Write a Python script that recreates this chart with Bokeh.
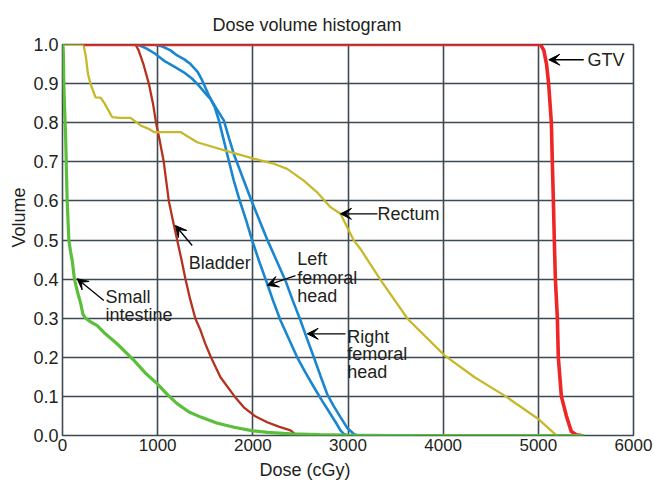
from bokeh.plotting import figure
from bokeh.models import Range1d, FixedTicker, PrintfTickFormatter, Label, Arrow, VeeHead, Title
from bokeh.embed import file_html
from bokeh.resources import INLINE

# ---------------- data ----------------
gtv_dose = [224, 5023, 5058, 5086, 5108, 5137, 5147, 5158, 5168, 5179, 5200, 5210, 5242, 5295, 5347, 5400, 5453]
gtv_vol = [1.0, 1.0, 0.985, 0.95, 0.9, 0.8, 0.7, 0.6, 0.5, 0.4, 0.3, 0.2, 0.1, 0.05, 0.01, 0.002, 0.0]

rectum_dose = [0, 220, 245, 267, 295, 347, 400, 440, 523, 600, 715, 821, 900, 960, 1240, 1415, 1765, 2010, 2220,
               2361, 2535, 2676, 2816, 2921, 3061, 3131, 3347, 3628, 4014, 4330, 4645, 4996, 5100, 5172, 5200]
rectum_vol = [1.0, 1.0, 0.97, 0.925, 0.899, 0.865, 0.864, 0.85, 0.814, 0.8125, 0.8125, 0.793, 0.785, 0.776, 0.776,
              0.75, 0.725, 0.708, 0.695, 0.682, 0.652, 0.622, 0.584, 0.567, 0.499, 0.477, 0.396, 0.298, 0.205,
              0.149, 0.102, 0.043, 0.02, 0.004, 0.0]

bladder_dose = [767, 800, 850, 907, 950, 983, 1025, 1064, 1117, 1160, 1205, 1250, 1292, 1340, 1395, 1450, 1500,
                1560, 1660, 1808, 1905, 2020, 2151, 2280, 2396, 2460]
bladder_vol = [1.0, 0.985, 0.95, 0.9, 0.85, 0.8, 0.75, 0.7, 0.6, 0.55, 0.5, 0.45, 0.4, 0.35, 0.3, 0.269, 0.235,
               0.2, 0.149, 0.1, 0.072, 0.05, 0.034, 0.022, 0.013, 0.0]

left_fh_dose = [786, 880, 970, 1064, 1170, 1275, 1360, 1433, 1520, 1555, 1600, 1643, 1690, 1730, 1800, 1862, 1930,
                1993, 2070, 2151, 2220, 2291, 2380, 2466, 2555, 2641, 2730, 2816, 2880, 2921, 2956, 2990]
left_fh_vol = [1.0, 0.99, 0.977, 0.959, 0.944, 0.929, 0.913, 0.895, 0.870, 0.861, 0.84, 0.806, 0.76, 0.72, 0.652,
               0.601, 0.55, 0.499, 0.443, 0.388, 0.34, 0.294, 0.246, 0.2, 0.16, 0.124, 0.088, 0.055, 0.03, 0.013,
               0.004, 0.0]

right_fh_dose = [960, 1050, 1135, 1205, 1280, 1345, 1420, 1468, 1537, 1570, 1620, 1695, 1750, 1800, 1905, 1985,
                 2070, 2155, 2250, 2343, 2420, 2501, 2570, 2641, 2710, 2781, 2850, 2921, 2990, 3061, 3100, 3700]
right_fh_vol = [1.0, 0.995, 0.985, 0.972, 0.962, 0.950, 0.93, 0.908, 0.870, 0.855, 0.835, 0.806, 0.76, 0.72, 0.652,
                0.601, 0.55, 0.499, 0.447, 0.396, 0.345, 0.294, 0.247, 0.2, 0.153, 0.106, 0.075, 0.047, 0.02,
                0.004, 0.0, 0.0]

small_int_dose = [0, 5, 10, 14, 20, 32, 49, 67, 85, 102, 125, 160, 189, 215, 242, 300, 365, 450, 576, 751, 870,
                  997, 1100, 1207, 1330, 1453, 1620, 1803, 2000, 2154, 2400, 2700, 3000, 3500, 4500, 5484]
small_int_vol = [1.0, 1.0, 0.97, 0.9, 0.85, 0.772, 0.6, 0.499, 0.47, 0.448, 0.4, 0.365, 0.34, 0.31, 0.3, 0.29,
                 0.281, 0.26, 0.234, 0.192, 0.16, 0.132, 0.105, 0.081, 0.06, 0.047, 0.032, 0.021, 0.012, 0.008,
                 0.004, 0.002, 0.001, 0.0, 0.0, 0.0]

x_ticks = [0, 1000, 2000, 3000, 4000, 5000, 6000]
y_ticks = [0.0, 0.1, 0.2, 0.3, 0.4, 0.5, 0.6, 0.7, 0.8, 0.9, 1.0]

FONT = "Liberation Sans"
TXT = "#231f20"
GRID = "#3d4a52"

p = figure(width=654, height=483, x_range=Range1d(0, 6000), y_range=Range1d(0, 1.0),
           output_backend="svg", toolbar_location=None,
           min_border_left=62, min_border_right=21, min_border_top=44, min_border_bottom=48)
p.background_fill_color = "white"
p.border_fill_color = "white"
p.outline_line_color = GRID
p.outline_line_width = 1.6

p.title.text = "Dose volume histogram"
p.title.align = "left"
p.title.offset = 150
p.title.text_font = FONT
p.title.text_font_size = "18px"
p.title.text_font_style = "normal"
p.title.text_color = TXT
p.title.standoff = 20

p.add_layout(Title(text="Dose (cGy)", align="left", vertical_align="bottom", offset=197, text_font=FONT,
                   text_font_size="18px", text_font_style="normal", text_color=TXT, standoff=8), "below")
p.add_layout(Title(text="Volume", align="left", offset=188, text_font=FONT, text_font_size="18px",
                   text_font_style="normal", text_color=TXT, standoff=4), "left")

p.xaxis.ticker = FixedTicker(ticks=x_ticks)
p.yaxis.ticker = FixedTicker(ticks=y_ticks)
p.xaxis.formatter = PrintfTickFormatter(format="%d")
p.yaxis.formatter = PrintfTickFormatter(format="%.1f")
for ax in (p.xaxis, p.yaxis):
    ax.axis_line_color = None
    ax.major_tick_line_color = None
    ax.minor_tick_line_color = None
    ax.major_tick_out = 0
    ax.major_tick_in = 0
    ax.major_label_text_font = FONT
    ax.major_label_text_color = TXT
p.xaxis.major_label_text_font_size = "17px"
p.yaxis.major_label_text_font_size = "18px"
p.xaxis.major_label_standoff = 3
p.yaxis.major_label_standoff = 4

p.xgrid.ticker = FixedTicker(ticks=x_ticks)
p.ygrid.ticker = FixedTicker(ticks=y_ticks)
for g in (p.xgrid, p.ygrid):
    g.grid_line_color = GRID
    g.grid_line_width = 1.6
    g.grid_line_alpha = 1.0

# curves
p.line(right_fh_dose, right_fh_vol, line_color="#1a86d0", line_width=2.6)
p.line(left_fh_dose, left_fh_vol, line_color="#1a86d0", line_width=2.6)
p.line(bladder_dose, bladder_vol, line_color="#b4321f", line_width=2.3)
p.line(rectum_dose, rectum_vol, line_color="#c6b92c", line_width=2.3)
p.line(gtv_dose, gtv_vol, line_color="#ef2626", line_width=3.6)
p.line(small_int_dose, small_int_vol, line_color="#5cbf3c", line_width=3.2)


def lab(x, y, t, size="18px", align="left", baseline="alphabetic"):
    p.add_layout(Label(x=x, y=y, text=t, text_font=FONT, text_font_size=size, text_color=TXT,
                       text_align=align, text_baseline=baseline))


def arr(x0, y0, x1, y1):
    p.add_layout(Arrow(end=VeeHead(size=11, fill_color="black", line_color="black", line_width=1),
                       x_start=x0, y_start=y0, x_end=x1, y_end=y1, line_color="black", line_width=1.3))


# annotations
arr(5477, 0.961, 5110, 0.961)
lab(5516, 0.961, "GTV", baseline="middle")

arr(3310, 0.567, 2921, 0.567)
lab(3310, 0.567, "Rectum", baseline="middle")

arr(1363, 0.486, 1187, 0.537)
lab(1327, 0.44, "Bladder")

arr(434, 0.345, 154, 0.401)
lab(452, 0.354, "Small")
lab(452, 0.309, "intestine")

arr(2448, 0.409, 2151, 0.384)
lab(2466, 0.452, "Left")
lab(2466, 0.403, "femoral")
lab(2466, 0.358, "head")

arr(2974, 0.26, 2571, 0.26)
lab(2992, 0.251, "Right")
lab(2992, 0.209, "femoral")
lab(2992, 0.162, "head")

open("out.html", "w").write(file_html(p, INLINE))
